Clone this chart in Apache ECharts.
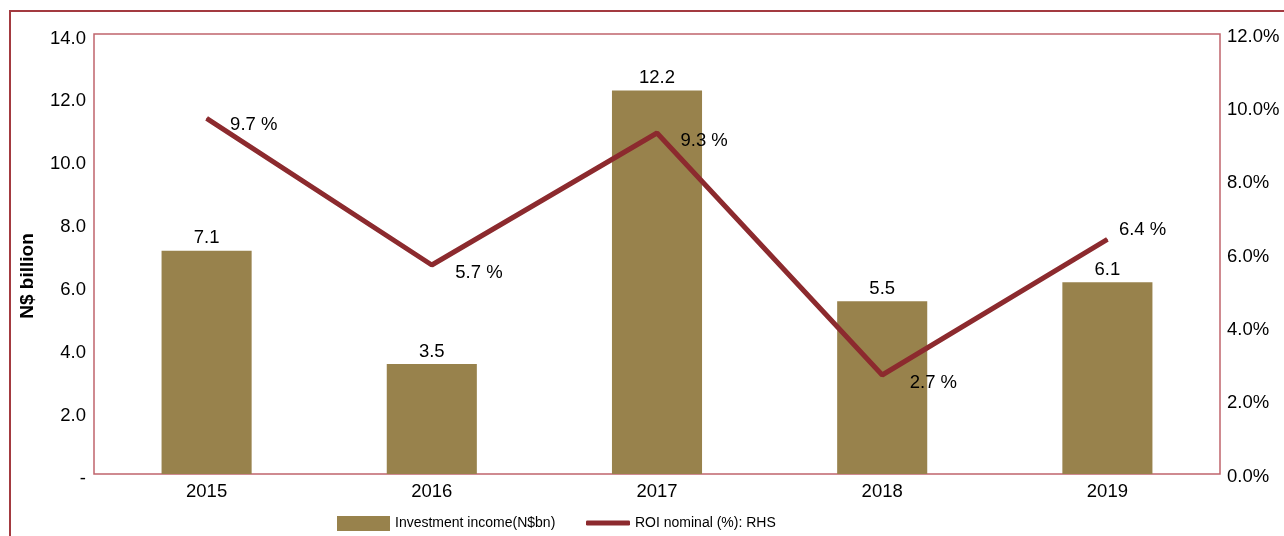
<!DOCTYPE html>
<html>
<head>
<meta charset="utf-8">
<script src="https://cdn.jsdelivr.net/npm/echarts@6/dist/echarts.min.js"></script>
<style>
  html, body { margin: 0; padding: 0; background: #fff; }
  #chart { width: 1284px; height: 536px; }
</style>
</head>
<body>
<div id="chart"></div>
<script>
// data
var years = ['2015', '2016', '2017', '2018', '2019'];
var income = [7.1, 3.5, 12.2, 5.5, 6.1];      // N$ billion, left axis
var roi = [9.7, 5.7, 9.3, 2.7, 6.4];          // %, right axis
// where each roi label sits relative to its point
var roiLabelOffset = [[0, 7], [0, 8], [0, 8], [4, 8], [-12, -9]];

var FONT = 'Liberation Sans, Arial, sans-serif';
var FS = 18.5;
var BAR = '#98824c';
var LINE = '#8c2a2e';

var chart = echarts.init(document.getElementById('chart'));

var option = {
    animation: false,
    textStyle: { fontFamily: FONT },
    grid: {
        left: 94, right: 64, top: 34, bottom: 62,
        show: true,
        borderColor: '#c0646c',
        borderWidth: 1.5
    },
    // outer frame + y axis title
    graphic: [
        {
            type: 'rect',
            shape: { x: 10, y: 11, width: 1300, height: 560 },
            style: { fill: 'none', stroke: '#a33a40', lineWidth: 2 }
        },
        {
            type: 'text',
            x: 28, y: 276,
            rotation: Math.PI / 2,
            style: {
                text: 'N$ billion',
                font: 'bold 19px ' + FONT,
                fill: '#000',
                align: 'center',
                verticalAlign: 'middle'
            }
        }
    ],
    legend: [
        {
            left: 332, top: 511,
            itemWidth: 53, itemHeight: 15, itemGap: 7,
            icon: 'rect',
            data: ['Investment income(N$bn)'],
            textStyle: { fontSize: 14, color: '#000', fontFamily: FONT }
        },
        {
            left: 581, top: 511,
            itemWidth: 44, itemHeight: 5, itemGap: 6,
            icon: 'roundRect',
            data: ['ROI nominal (%): RHS'],
            textStyle: { fontSize: 14, color: '#000', fontFamily: FONT }
        }
    ],
    xAxis: {
        type: 'category',
        data: years,
        axisLine: { show: false },
        axisTick: { show: false },
        axisLabel: { color: '#000', fontSize: FS, margin: 8 }
    },
    yAxis: [
        {
            type: 'value',
            min: 0, max: 14, interval: 2,
            axisLine: { show: false },
            axisTick: { show: false },
            splitLine: { show: false },
            axisLabel: {
                color: '#000', fontSize: FS, margin: 8,
                formatter: function (v) { return '{a|' + (v === 0 ? '-' : v.toFixed(1)) + '}'; },
                rich: { a: { fontSize: FS, color: '#000', padding: [9, 0, 0, 0] } }
            }
        },
        {
            type: 'value',
            min: 0, max: 12, interval: 2,
            axisLine: { show: false },
            axisTick: { show: false },
            splitLine: { show: false },
            axisLabel: {
                color: '#000', fontSize: FS, margin: 7,
                formatter: function (v) { return '{a|' + v.toFixed(1) + '%}'; },
                rich: { a: { fontSize: FS, color: '#000', padding: [5, 0, 0, 0] } }
            }
        }
    ],
    series: [
        {
            name: 'Investment income(N$bn)',
            type: 'bar',
            barWidth: '40%',
            data: income,
            itemStyle: { color: BAR },
            label: {
                show: true, position: 'top', distance: 3,
                color: '#000', fontSize: FS,
                formatter: function (p) { return p.value.toFixed(1); }
            }
        },
        {
            name: 'ROI nominal (%): RHS',
            type: 'line',
            yAxisIndex: 1,
            symbol: 'circle',
            symbolSize: 1,
            showSymbol: true,
            data: roi.map(function (v, i) {
                return {
                    value: v,
                    label: { offset: roiLabelOffset[i] }
                };
            }),
            lineStyle: { color: LINE, width: 5 },
            itemStyle: { color: LINE },
            label: {
                show: true, position: 'right', distance: 23,
                color: '#000', fontSize: FS,
                formatter: function (p) { return p.value.toFixed(1) + ' %'; }
            }
        }
    ]
};

chart.setOption(option);
</script>
</body>
</html>
